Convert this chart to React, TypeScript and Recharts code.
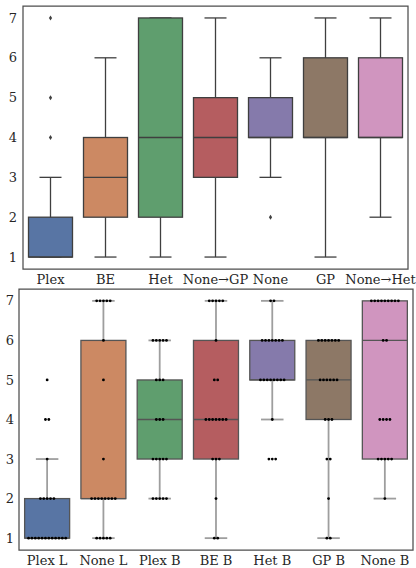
import { ComposedChart, Bar, Scatter, XAxis, YAxis, ReferenceArea } from "recharts";

// top panel: box summaries
const topCats = ["Plex", "BE", "Het", "None→GP", "None", "GP", "None→Het"];
const topLo = [1, 1, 1, 1, 3, 1, 2];
const topQ1 = [1, 2, 2, 3, 4, 4, 4];
const topMed = [1, 3, 4, 4, 4, 4, 4];
const topQ3 = [2, 4, 7, 5, 5, 6, 6];
const topHi = [3, 6, 7, 7, 6, 7, 7];
const topOutliers = [[4, 5, 7], [], [], [], [2], [], []];

// bottom panel: number of answers at each rating
const bottomCats = ["Plex L", "None L", "Plex B", "BE B", "Het B", "GP B", "None B"];
const ratings = [1, 2, 3, 4, 5, 6, 7];
const countsPlexL = [12, 5, 1, 2, 1, 0, 0];
const countsNoneL = [5, 8, 1, 0, 1, 1, 5];
const countsPlexB = [0, 5, 5, 3, 3, 5, 0];
const countsBEB = [2, 1, 3, 7, 2, 1, 5];
const countsHetB = [0, 0, 3, 1, 8, 7, 2];
const countsGPB = [2, 1, 2, 3, 6, 7, 0];
const countsNoneB = [0, 1, 5, 4, 0, 2, 9];
const bottomCounts = [countsPlexL, countsNoneL, countsPlexB, countsBEB, countsHetB, countsGPB, countsNoneB];

const palette = ["#5875a4", "#cc8963", "#5f9e6e", "#b55d60", "#857aab", "#8d7866", "#d095bf"];
const yTicks = [1, 2, 3, 4, 5, 6, 7];
const xTicks = [0, 1, 2, 3, 4, 5, 6];
const SWARM_STEP = 0.06; // spacing between swarm dots, in category units
const FONT = { fontFamily: "DejaVu Serif", fontSize: 13, fill: "#262626" };

type Row = { i: number; lo: number; q1: number; med: number; q3: number; hi: number };
type Pt = { x: number; v: number };

function quantile(sorted: number[], p: number) {
  const pos = (sorted.length - 1) * p;
  const a = Math.floor(pos);
  const b = Math.ceil(pos);
  return sorted[a] + (sorted[b] - sorted[a]) * (pos - a);
}

function statsFromCounts(counts: number[], i: number): Row {
  const obs = counts.flatMap((n, k) => Array(n).fill(ratings[k]));
  const q1 = quantile(obs, 0.25);
  const med = quantile(obs, 0.5);
  const q3 = quantile(obs, 0.75);
  const iqr = q3 - q1;
  const inside = obs.filter((v) => v >= q1 - 1.5 * iqr && v <= q3 + 1.5 * iqr);
  return { i, lo: Math.min(...inside), hi: Math.max(...inside), q1, med, q3 };
}

const topRows: Row[] = topCats.map((_, i) => ({
  i, lo: topLo[i], q1: topQ1[i], med: topMed[i], q3: topQ3[i], hi: topHi[i],
}));
const topPoints: Pt[] = topOutliers.flatMap((vals, i) => vals.map((v) => ({ x: i, v })));

const bottomRows: Row[] = bottomCounts.map((c, i) => statsFromCounts(c, i));
const bottomPoints: Pt[] = bottomCounts.flatMap((counts, i) =>
  counts.flatMap((n, k) =>
    Array.from({ length: n }, (_, j) => ({ x: i + (j - (n - 1) / 2) * SWARM_STEP, v: ratings[k] }))
  )
);

function makeBox(edge: string, whisker: string, whiskerWidth: number) {
  return (props: any) => {
    const { x, y, width, height, payload } = props;
    const { lo, hi, q1, med, q3, i } = payload as Row;
    const py = (v: number) => y + (height * (hi - v)) / (hi - lo);
    const cx = x + width / 2;
    const cap = width / 4;
    return (
      <g>
        <line x1={cx} x2={cx} y1={py(hi)} y2={py(lo)} stroke={whisker} strokeWidth={whiskerWidth} />
        <line x1={cx - cap} x2={cx + cap} y1={py(hi)} y2={py(hi)} stroke={whisker} strokeWidth={whiskerWidth} />
        <line x1={cx - cap} x2={cx + cap} y1={py(lo)} y2={py(lo)} stroke={whisker} strokeWidth={whiskerWidth} />
        <rect x={x} y={py(q3)} width={width} height={py(q1) - py(q3)} fill={palette[i]} stroke={edge} strokeWidth={1.3} />
        <line x1={x} x2={x + width} y1={py(med)} y2={py(med)} stroke={edge} strokeWidth={1.3} />
      </g>
    );
  };
}

const diamond = (props: any) => {
  const { cx, cy } = props;
  return <path d={`M${cx},${cy - 2.5}L${cx + 1.6},${cy}L${cx},${cy + 2.5}L${cx - 1.6},${cy}Z`} fill="#3f3f3f" />;
};
const dot = (props: any) => <circle cx={props.cx} cy={props.cy} r={1.4} fill="#000" />;

type PanelProps = {
  cats: string[];
  rows: Row[];
  points: Pt[];
  pointShape: (p: any) => any;
  boxShape: (p: any) => any;
  height: number;
  margin: { top: number; right: number; bottom: number; left: number };
  yWidth: number;
  xHeight: number;
  xGap: number;
  yGap: number;
};

function Panel({ cats, rows, points, pointShape, boxShape, height, margin, yWidth, xHeight, xGap, yGap }: PanelProps) {
  return (
    <ComposedChart width={416} height={height} data={rows} margin={margin} barCategoryGap="10%" style={{ overflow: "visible" }}>
      <XAxis
        dataKey="i"
        type="number"
        domain={[-0.5, 6.5]}
        allowDataOverflow
        ticks={xTicks}
        interval={0}
        tickFormatter={(v: number) => cats[v]}
        tickLine={false}
        tickSize={0}
        tickMargin={xGap}
        height={xHeight}
        axisLine={false}
        tick={FONT}
      />
      <XAxis xAxisId="pts" dataKey="x" type="number" domain={[-0.5, 6.5]} allowDataOverflow hide />
      <YAxis
        type="number"
        domain={[0.7, 7.3]}
        allowDataOverflow
        ticks={yTicks}
        interval={0}
        tickLine={false}
        tickSize={0}
        tickMargin={yGap}
        width={yWidth}
        axisLine={false}
        tick={FONT}
      />
      <Bar dataKey={(d: Row) => [d.lo, d.hi]} shape={boxShape} isAnimationActive={false} />
      <Scatter xAxisId="pts" data={points} dataKey="v" shape={pointShape} isAnimationActive={false} />
      <ReferenceArea
        x1={-0.5}
        x2={6.5}
        y1={0.7}
        y2={7.3}
        fill="none"
        fillOpacity={0}
        stroke="#4d4d4d"
        strokeWidth={1.25}
        ifOverflow="visible"
      />
    </ComposedChart>
  );
}

export default function App() {
  return (
    <div style={{ position: "absolute", left: 0, top: 0, width: 416, height: 568, background: "#fff" }}>
      <div style={{ position: "absolute", left: 0, top: 0 }}>
        <Panel
          cats={topCats}
          rows={topRows}
          points={topPoints}
          pointShape={diamond}
          boxShape={makeBox("#3f3f3f", "#3f3f3f", 1.3)}
          height={290}
          margin={{ top: 6, right: 8, bottom: 6, left: 0 }}
          yWidth={23}
          xHeight={15}
          xGap={6}
          yGap={6}
        />
      </div>
      <div style={{ position: "absolute", left: 0, top: 284 }}>
        <Panel
          cats={bottomCats}
          rows={bottomRows}
          points={bottomPoints}
          pointShape={dot}
          boxShape={makeBox("#555", "#9e9e9e", 1.8)}
          height={284}
          margin={{ top: 5, right: 3, bottom: 0, left: 0 }}
          yWidth={19}
          xHeight={18}
          xGap={6}
          yGap={5}
        />
      </div>
    </div>
  );
}
